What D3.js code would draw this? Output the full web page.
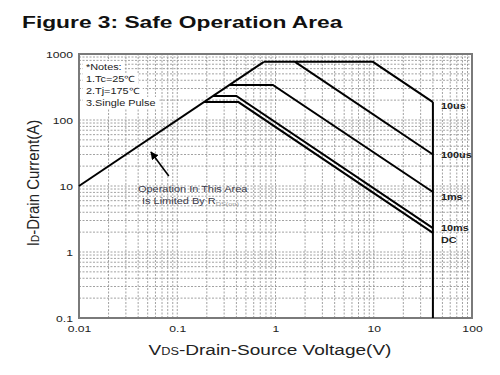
<!DOCTYPE html>
<html>
<head>
<meta charset="utf-8">
<script src="https://cdn.jsdelivr.net/npm/d3@7"></script>
<style>
  body { margin: 0; background: #fff; }
  text { font-family: "Liberation Sans", Arial, sans-serif; }
</style>
</head>
<body>
<svg width="500" height="375"></svg>
<script>
// values (VDS in volts, ID in amps)
var xTicks = [0.01, 0.1, 1, 10, 100];
var yTicks = [0.1, 1, 10, 100, 1000];
var xTickLabels = ["0.01", "0.1", "1", "10", "100"];
var yTickLabels = ["0.1", "1", "10", "100", "1000"];

var rdsLimit   = [[0.01, 10], [0.76, 760]];
var pulse10us  = [[0.76, 760], [9.8, 760], [40, 187]];
var pulse100us = [[1.58, 760], [40, 30]];
var pulse1ms   = [[0.34, 340], [0.94, 340], [40, 8.1]];
var pulse10ms  = [[0.231, 231], [0.40, 231], [40, 2.3]];
var pulseDC    = [[0.187, 187], [0.42, 187], [40, 1.95]];
var vdsMax     = [[40, 187], [40, 0.1]];

var curveNames = ["10us", "100us", "1ms", "10ms", "DC"];
var notes = ["*Notes:", "1.Tc=25\u2103", "2.Tj=175\u2103", "3.Single Pulse"];
var arrowPts = [[0.082, 14.2], [0.054, 32.7]];

// the original image is stretched sideways, so text gets a horizontal scale
var SX = 1.28;

var margin = { top: 54, right: 28, bottom: 57, left: 79 },
    width = 500 - margin.left - margin.right,
    height = 375 - margin.top - margin.bottom;

var svg = d3.select("svg");

var xScale = d3.scaleLog().domain([0.01, 100]).range([margin.left, margin.left + width]);
var yScale = d3.scaleLog().domain([0.1, 1000]).range([margin.top + height, margin.top]);

// title
svg.append("text")
    .attr("transform", "translate(22,28) scale(1.34,1)")
    .attr("font-size", 17)
    .attr("font-weight", "bold")
    .attr("fill", "#111")
    .text("Figure 3: Safe Operation Area");

// grid lines 1..9 per decade
var xGrid = [], yGrid = [];
[0.01, 0.1, 1, 10].forEach(function(d) {
  for (var k = 1; k < 10; k++) xGrid.push(d * k);
});
[0.1, 1, 10, 100].forEach(function(d) {
  for (var k = 1; k < 10; k++) yGrid.push(d * k);
});
xGrid = xGrid.filter(function(v) { return v > 0.01; });
yGrid = yGrid.filter(function(v) { return v > 0.1; });

var grid = svg.append("g")
    .attr("stroke", "#8a8a8a")
    .attr("stroke-width", 0.8)
    .attr("stroke-dasharray", "2,1.5");

grid.selectAll(".gx").data(xGrid).enter().append("line")
    .attr("x1", function(d) { return xScale(d); })
    .attr("x2", function(d) { return xScale(d); })
    .attr("y1", yScale(0.1))
    .attr("y2", yScale(1000));

grid.selectAll(".gy").data(yGrid).enter().append("line")
    .attr("y1", function(d) { return yScale(d); })
    .attr("y2", function(d) { return yScale(d); })
    .attr("x1", xScale(0.01))
    .attr("x2", xScale(100));

// notes box, white behind each line
var notesG = svg.append("g");
notes.forEach(function(t, i) {
  var y = 70 + i * 12;
  var txt = notesG.append("text")
      .attr("transform", "translate(86," + y + ") scale(" + SX + ",1)")
      .attr("font-size", 8.5)
      .attr("fill", "#222")
      .text(t);
  var w = txt.node().getComputedTextLength() * SX;
  notesG.insert("rect", "text")
      .attr("x", 83).attr("y", y - 9)
      .attr("width", w + 6).attr("height", 12)
      .attr("fill", "#fff");
});

// frame
svg.append("rect")
    .attr("x", margin.left).attr("y", margin.top)
    .attr("width", width).attr("height", height)
    .attr("fill", "none")
    .attr("stroke", "#7a7a7a")
    .attr("stroke-width", 2);

// axes
var xAxis = d3.axisBottom(xScale)
    .tickValues(xTicks)
    .tickFormat(function(d, i) { return xTickLabels[i]; })
    .tickSize(0);
var yAxis = d3.axisLeft(yScale)
    .tickValues(yTicks)
    .tickFormat(function(d, i) { return yTickLabels[i]; })
    .tickSize(0);

var gx = svg.append("g")
    .attr("transform", "translate(0," + (margin.top + height) + ")")
    .call(xAxis);
gx.select(".domain").remove();
gx.selectAll("text")
    .attr("y", 0).attr("dy", 0)
    .attr("transform", "translate(0,14) scale(" + SX + ",1)")
    .attr("font-size", 9.5)
    .attr("font-family", "Liberation Sans, Arial, sans-serif")
    .attr("fill", "#222");

var gy = svg.append("g")
    .attr("transform", "translate(" + margin.left + ",0)")
    .call(yAxis);
gy.select(".domain").remove();
gy.selectAll("text")
    .attr("x", 0).attr("dy", 0)
    .attr("transform", "translate(-6,3.5) scale(" + SX + ",1)")
    .attr("font-size", 9.5)
    .attr("font-family", "Liberation Sans, Arial, sans-serif")
    .attr("fill", "#222");

// axis titles
var xt = svg.append("text")
    .attr("transform", "translate(270,355) scale(1.27,1)")
    .attr("text-anchor", "middle")
    .attr("font-size", 15)
    .attr("fill", "#222");
xt.append("tspan").text("V");
xt.append("tspan").attr("font-size", 10).text("DS");
xt.append("tspan").text("-Drain-Source Voltage(V)");

var yt = svg.append("text")
    .attr("transform", "translate(39,183) rotate(-90) scale(1,1.15)")
    .attr("text-anchor", "middle")
    .attr("font-size", 15)
    .attr("fill", "#222");
yt.append("tspan").text("I");
yt.append("tspan").attr("font-size", 10).text("D");
yt.append("tspan").text("-Drain Current(A)");

// SOA curves
var line = d3.line()
    .x(function(d) { return xScale(d[0]); })
    .y(function(d) { return yScale(d[1]); });

var curves = [rdsLimit, pulse10us, pulse100us, pulse1ms, pulse10ms, pulseDC, vdsMax];
svg.append("g").selectAll("path").data(curves).enter().append("path")
    .attr("d", line)
    .attr("fill", "none")
    .attr("stroke", "#000")
    .attr("stroke-width", 2)
    .attr("stroke-linejoin", "miter");

// curve labels next to where each curve meets the 40V line
var labelEnds = [pulse10us, pulse100us, pulse1ms, pulse10ms, pulseDC];
var labelDy = [7, 3, 8, 3, 10];
labelEnds.forEach(function(c, i) {
  var end = c[c.length - 1];
  svg.append("text")
      .attr("transform", "translate(" + (xScale(end[0]) + 8) + "," + (yScale(end[1]) + labelDy[i]) + ") scale(" + SX + ",1)")
      .attr("font-size", 8.5)
      .attr("font-weight", "bold")
      .attr("fill", "#222")
      .text(curveNames[i]);
});

// annotation with arrow
svg.append("defs").append("marker")
    .attr("id", "arr")
    .attr("viewBox", "0 0 10 10")
    .attr("refX", 9).attr("refY", 5)
    .attr("markerWidth", 5).attr("markerHeight", 5)
    .attr("orient", "auto")
    .append("path")
    .attr("d", "M0,0L10,5L0,10Z")
    .attr("fill", "#000");

svg.append("line")
    .attr("x1", xScale(arrowPts[0][0])).attr("y1", yScale(arrowPts[0][1]))
    .attr("x2", xScale(arrowPts[1][0])).attr("y2", yScale(arrowPts[1][1]))
    .attr("stroke", "#000")
    .attr("stroke-width", 1.6)
    .attr("marker-end", "url(#arr)");

svg.append("text")
    .attr("transform", "translate(138,192) scale(1.22,1)")
    .attr("font-size", 9)
    .attr("fill", "#3a3a4a")
    .text("Operation In This Area");

var lim = svg.append("text")
    .attr("transform", "translate(142,204) scale(1.22,1)")
    .attr("font-size", 9)
    .attr("fill", "#3a3a4a");
lim.append("tspan").text("Is Limited By R");
lim.append("tspan").attr("font-size", 6).attr("fill", "#999").attr("dy", 1.5).text("DS(on)");
</script>
</body>
</html>
